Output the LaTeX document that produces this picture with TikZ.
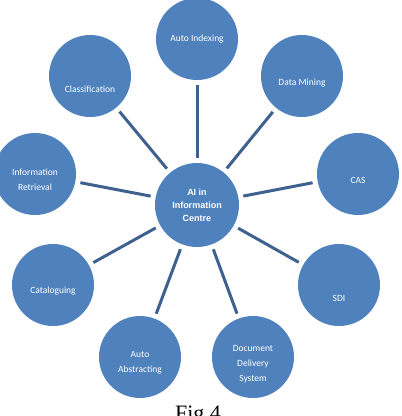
\documentclass[tikz,border=0pt]{standalone}
\usepackage{fontspec}
\usepackage{xcolor}
\usepackage{tikz}
\usetikzlibrary{calc,positioning}
\setmainfont{Carlito}
\newfontfamily\hubfont{Liberation Sans}
\newfontfamily\figfont{Liberation Serif}
\definecolor{aiBlue}{RGB}{79,129,189}
\definecolor{aiBlueDark}{RGB}{62,97,143}

\begin{document}
\begin{tikzpicture}[x=1pt,y=-1pt,
  spokenode/.style={circle, fill=aiBlue, draw=none, minimum size=82pt, inner sep=0pt},
  hubnode/.style={circle, fill=aiBlue, draw=none, minimum size=84pt, inner sep=0pt,
    text=white, align=center, font=\hubfont\bfseries\fontsize{9}{13}\selectfont},
  spoketext/.style={text=white, align=center, font=\fontsize{9.5}{15}\selectfont},
  spoke/.style={aiBlueDark, line width=3pt, shorten <=5pt, shorten >=5pt}]
\useasboundingbox (0,0) rectangle (402,416);
\node[hubnode] (hub) at (197,205) {AI in\\Information\\Centre};
\node[spokenode, label={[spoketext,yshift=0pt]center:Auto Indexing}] (autoidx) at (197,39) {};
\node[spokenode, label={[spoketext,yshift=-13pt]center:Classification}] (classif) at (90,76) {};
\node[spokenode, label={[spoketext,yshift=-7pt]center:Data Mining}] (datamin) at (302,76) {};
\node[spokenode, label={[spoketext,yshift=-6pt]center:{Information\\Retrieval}}] (inforet) at (35,174) {};
\node[spokenode, label={[spoketext,yshift=-6pt]center:CAS}] (cas) at (358,174) {};
\node[spokenode, label={[spoketext,yshift=-6pt]center:Cataloguing}] (catalog) at (53,285) {};
\node[spokenode, label={[spoketext,yshift=-13pt]center:SDI}] (sdi) at (339,285) {};
\node[spokenode, label={[spoketext,yshift=-6pt]center:{Auto\\Abstracting}}] (autoabs) at (140,357) {};
\node[spokenode, label={[spoketext,yshift=-7pt]center:{Document\\Delivery\\System}}] (docdel) at (253,357) {};
\draw[spoke] (hub) -- (autoidx);
\draw[spoke] (hub) -- (classif);
\draw[spoke] (hub) -- (datamin);
\draw[spoke] (hub) -- (inforet);
\draw[spoke] (hub) -- (cas);
\draw[spoke] (hub) -- (catalog);
\draw[spoke] (hub) -- (sdi);
\draw[spoke] (hub) -- (autoabs);
\draw[spoke] (hub) -- (docdel);
\node[anchor=base, font=\figfont\fontsize{22}{26}\selectfont] (figcap) at (198,420) {Fig.4};
\end{tikzpicture}
\end{document}
